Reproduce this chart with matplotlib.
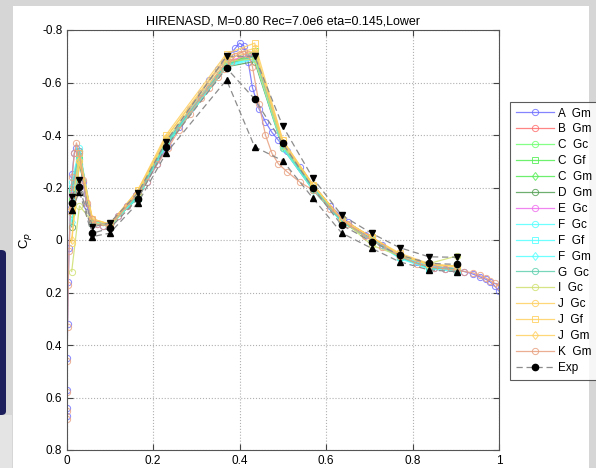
import numpy as np
import matplotlib.pyplot as plt
from matplotlib.patches import Rectangle, FancyBboxPatch

plt.rcParams.update({
    "font.family": "Liberation Sans",
    "font.size": 8,
})

# data: lower surface Cp, eta = 0.145
tap_x = [0.012, 0.03, 0.06, 0.10, 0.165, 0.23, 0.37, 0.435, 0.50, 0.57, 0.636, 0.706, 0.77, 0.838, 0.904]

dense_x = [0.0, 0.0003, 0.0008, 0.0015, 0.0025, 0.004, 0.006, 0.009, 0.013, 0.018,
           0.023, 0.03, 0.038, 0.047, 0.058, 0.07, 0.085, 0.10, 0.12, 0.14,
           0.16, 0.185, 0.21, 0.235, 0.26, 0.285, 0.31, 0.33, 0.35, 0.365,
           0.38, 0.39, 0.40, 0.41, 0.42, 0.43, 0.445, 0.46, 0.475, 0.49,
           0.51, 0.54, 0.57, 0.61, 0.65, 0.69, 0.73, 0.77, 0.81, 0.85,
           0.875, 0.9, 0.92, 0.94, 0.955, 0.97, 0.98, 0.99, 1.0]

cp_A_Gm = [0.67, 0.64, 0.57, 0.45, 0.32, 0.16, 0.03, -0.12, -0.25, -0.33,
           -0.35, -0.31, -0.22, -0.13, -0.08, -0.06, -0.055, -0.06, -0.09, -0.13,
           -0.17, -0.22, -0.29, -0.36, -0.43, -0.50, -0.56, -0.61, -0.65, -0.68,
           -0.71, -0.73, -0.75, -0.74, -0.68, -0.58, -0.50, -0.45, -0.41, -0.38,
           -0.34, -0.28, -0.21, -0.13, -0.07, -0.02, 0.02, 0.055, 0.085, 0.105,
           0.11, 0.115, 0.12, 0.13, 0.14, 0.15, 0.16, 0.175, 0.195]
cp_K_Gm = [0.68, 0.65, 0.58, 0.46, 0.33, 0.17, 0.04, -0.11, -0.24, -0.33,
           -0.37, -0.33, -0.23, -0.14, -0.08, -0.06, -0.055, -0.06, -0.09, -0.13,
           -0.17, -0.22, -0.29, -0.35, -0.42, -0.48, -0.54, -0.58, -0.62, -0.65,
           -0.68, -0.70, -0.71, -0.72, -0.71, -0.66, -0.52, -0.40, -0.33, -0.29,
           -0.26, -0.22, -0.19, -0.12, -0.06, -0.015, 0.025, 0.06, 0.09, 0.105,
           0.11, 0.115, 0.12, 0.125, 0.135, 0.145, 0.155, 0.165, 0.175]

cp_B_Gm = [-0.20, -0.34, -0.06, -0.06, -0.17, -0.37, -0.68, -0.70, -0.36, -0.20, -0.07, -0.01, 0.06, 0.10, 0.11]
cp_C_Gc = [-0.18, -0.33, -0.06, -0.06, -0.17, -0.37, -0.67, -0.71, -0.36, -0.20, -0.07, 0.0, 0.065, 0.105, 0.115]
cp_C_Gf = [-0.16, -0.32, -0.07, -0.06, -0.16, -0.36, -0.66, -0.72, -0.37, -0.20, -0.08, -0.01, 0.06, 0.10, 0.11]
cp_C_Gm = [-0.10, -0.30, -0.07, -0.05, -0.17, -0.37, -0.67, -0.70, -0.36, -0.20, -0.07, 0.0, 0.06, 0.10, 0.11]
cp_D_Gm = [-0.05, -0.29, -0.06, -0.06, -0.16, -0.36, -0.66, -0.68, -0.35, -0.19, -0.07, 0.0, 0.065, 0.105, 0.115]
cp_E_Gc = [-0.17, -0.34, -0.06, -0.06, -0.17, -0.37, -0.68, -0.71, -0.37, -0.21, -0.08, -0.01, 0.06, 0.10, 0.11]
cp_F_Gc = [-0.22, -0.35, -0.06, -0.06, -0.17, -0.37, -0.67, -0.69, -0.36, -0.20, -0.07, 0.0, 0.07, 0.11, 0.12]
cp_F_Gf = [-0.20, -0.33, -0.07, -0.06, -0.16, -0.36, -0.66, -0.70, -0.36, -0.20, -0.07, 0.0, 0.065, 0.11, 0.115]
cp_F_Gm = [-0.07, -0.31, -0.07, -0.05, -0.17, -0.37, -0.66, -0.69, -0.35, -0.19, -0.07, 0.0, 0.06, 0.10, 0.115]
cp_G_Gc = [-0.19, -0.34, -0.06, -0.06, -0.17, -0.37, -0.67, -0.70, -0.36, -0.20, -0.07, 0.0, 0.065, 0.105, 0.11]
cp_I_Gc = [0.12, -0.13, -0.07, -0.05, -0.18, -0.38, -0.68, -0.69, -0.36, -0.21, -0.08, 0.02, 0.06, 0.09, 0.06]
cp_J_Gc = [0.01, -0.30, -0.08, -0.06, -0.19, -0.39, -0.70, -0.73, -0.38, -0.21, -0.08, -0.01, 0.055, 0.095, 0.10]
cp_J_Gf = [-0.12, -0.33, -0.08, -0.06, -0.19, -0.40, -0.71, -0.75, -0.38, -0.21, -0.08, -0.01, 0.05, 0.09, 0.10]
cp_J_Gm = [0.0, -0.30, -0.08, -0.06, -0.18, -0.39, -0.69, -0.72, -0.37, -0.21, -0.08, -0.01, 0.055, 0.095, 0.10]

exp_x = tap_x
exp_mean = [-0.141, -0.203, -0.026, -0.044, -0.156, -0.355, -0.655, -0.537, -0.368, -0.197, -0.057, 0.006, 0.057, 0.089, 0.093]
exp_max = [-0.165, -0.229, -0.05, -0.065, -0.179, -0.375, -0.70, -0.70, -0.434, -0.235, -0.095, -0.025, 0.029, 0.064, 0.066]
exp_min = [-0.114, -0.184, -0.013, -0.026, -0.141, -0.33, -0.61, -0.355, -0.302, -0.159, -0.027, 0.032, 0.083, 0.114, 0.121]

# label, x, cp, colour, marker
series = [
    ("A  Gm", dense_x, cp_A_Gm, "#6f6fff", "o"),
    ("B  Gm", tap_x, cp_B_Gm, "#ff7070", "o"),
    ("C  Gc", tap_x, cp_C_Gc, "#70ff70", "o"),
    ("C  Gf", tap_x, cp_C_Gf, "#55f055", "s"),
    ("C  Gm", tap_x, cp_C_Gm, "#55ee55", "d"),
    ("D  Gm", tap_x, cp_D_Gm, "#55a055", "o"),
    ("E  Gc", tap_x, cp_E_Gc, "#ee70ee", "o"),
    ("F  Gc", tap_x, cp_F_Gc, "#55ffff", "o"),
    ("F  Gf", tap_x, cp_F_Gf, "#55ffff", "s"),
    ("F  Gm", tap_x, cp_F_Gm, "#55ffff", "d"),
    ("G  Gc", tap_x, cp_G_Gc, "#60d0b0", "o"),
    ("I  Gc", tap_x, cp_I_Gc, "#d0e070", "o"),
    ("J  Gc", tap_x, cp_J_Gc, "#ffd060", "o"),
    ("J  Gf", tap_x, cp_J_Gf, "#ffd060", "s"),
    ("J  Gm", tap_x, cp_J_Gm, "#ffd060", "d"),
    ("K  Gm", dense_x, cp_K_Gm, "#e8a080", "o"),
]

fig = plt.figure(figsize=(5.96, 4.68), dpi=100, facecolor="#d6d6d6")

# screenshot background: white panel, dark tab at left
fig.patches.append(Rectangle((13 / 596, 0), 576 / 596, 462 / 468, transform=fig.transFigure,
                             facecolor="white", edgecolor="none", zorder=-10))
fig.patches.append(FancyBboxPatch((-6 / 596, 53 / 468), 12 / 596, 165 / 468, transform=fig.transFigure,
                                  boxstyle="round,pad=0,rounding_size=0.008",
                                  facecolor="#1c1f5c", edgecolor="none", zorder=-9))
fig.patches.append(Rectangle((0, 0), 12 / 596, 53 / 468, transform=fig.transFigure,
                             facecolor="#e4e4e4", edgecolor="none", zorder=-9))

ax = fig.add_axes([66.5 / 596, 18 / 468, 432.5 / 596, 420 / 468])

for label, x, cp, color, marker in series:
    ax.plot(x, cp, color=color, marker=marker, markersize=4.5, markerfacecolor="none",
            markeredgewidth=0.7, linewidth=0.9, alpha=0.85, label=label)

ax.plot(exp_x, exp_max, color="#8c8c8c", linestyle="--", linewidth=0.9, dashes=(5, 3),
        marker="v", markersize=4.5, markerfacecolor="black", markeredgecolor="black", zorder=5)
ax.plot(exp_x, exp_min, color="#8c8c8c", linestyle="--", linewidth=0.9, dashes=(5, 3),
        marker="^", markersize=4.5, markerfacecolor="black", markeredgecolor="black", zorder=5)
ax.plot(exp_x, exp_mean, color="#8c8c8c", linestyle="--", linewidth=0.9, dashes=(5, 3),
        marker="o", markersize=4.5, markerfacecolor="black", markeredgecolor="black",
        label="Exp", zorder=6)

ax.set_xlim(0, 1)
ax.set_ylim(0.8, -0.8)
ax.set_xticks([0, 0.2, 0.4, 0.6, 0.8, 1])
ax.set_xticklabels(["0", "0.2", "0.4", "0.6", "0.8", "1"])
ax.set_yticks([-0.8, -0.6, -0.4, -0.2, 0, 0.2, 0.4, 0.6, 0.8])
ax.set_yticklabels(["-0.8", "-0.6", "-0.4", "-0.2", "0", "0.2", "0.4", "0.6", "0.8"])
ax.tick_params(direction="in", length=4, color="#444444", labelsize=8.5, top=True, right=True, pad=3)
ax.tick_params(axis="x", pad=3.5)
ax.grid(True, linestyle=":", color="#b0b0b0", linewidth=0.8)
for sp in ax.spines.values():
    sp.set_color("#555555")
    sp.set_linewidth(0.8)

ax.set_title("HIRENASD, M=0.80 Rec=7.0e6 eta=0.145,Lower", fontsize=9, pad=4)
ax.set_ylabel("C$_p$", fontsize=9.5, labelpad=6)

leg = ax.legend(loc="upper left", bbox_to_anchor=(510 / 596, 1 - 101.7 / 468),
                bbox_transform=fig.transFigure, fontsize=8.5, frameon=True, fancybox=False,
                borderaxespad=0, handlelength=3.2, handletextpad=0.4, labelspacing=0.33,
                borderpad=0.5)
leg.get_frame().set_edgecolor("#333333")
leg.get_frame().set_linewidth(0.8)

fig.savefig("out.png", dpi=100, facecolor=fig.get_facecolor())
